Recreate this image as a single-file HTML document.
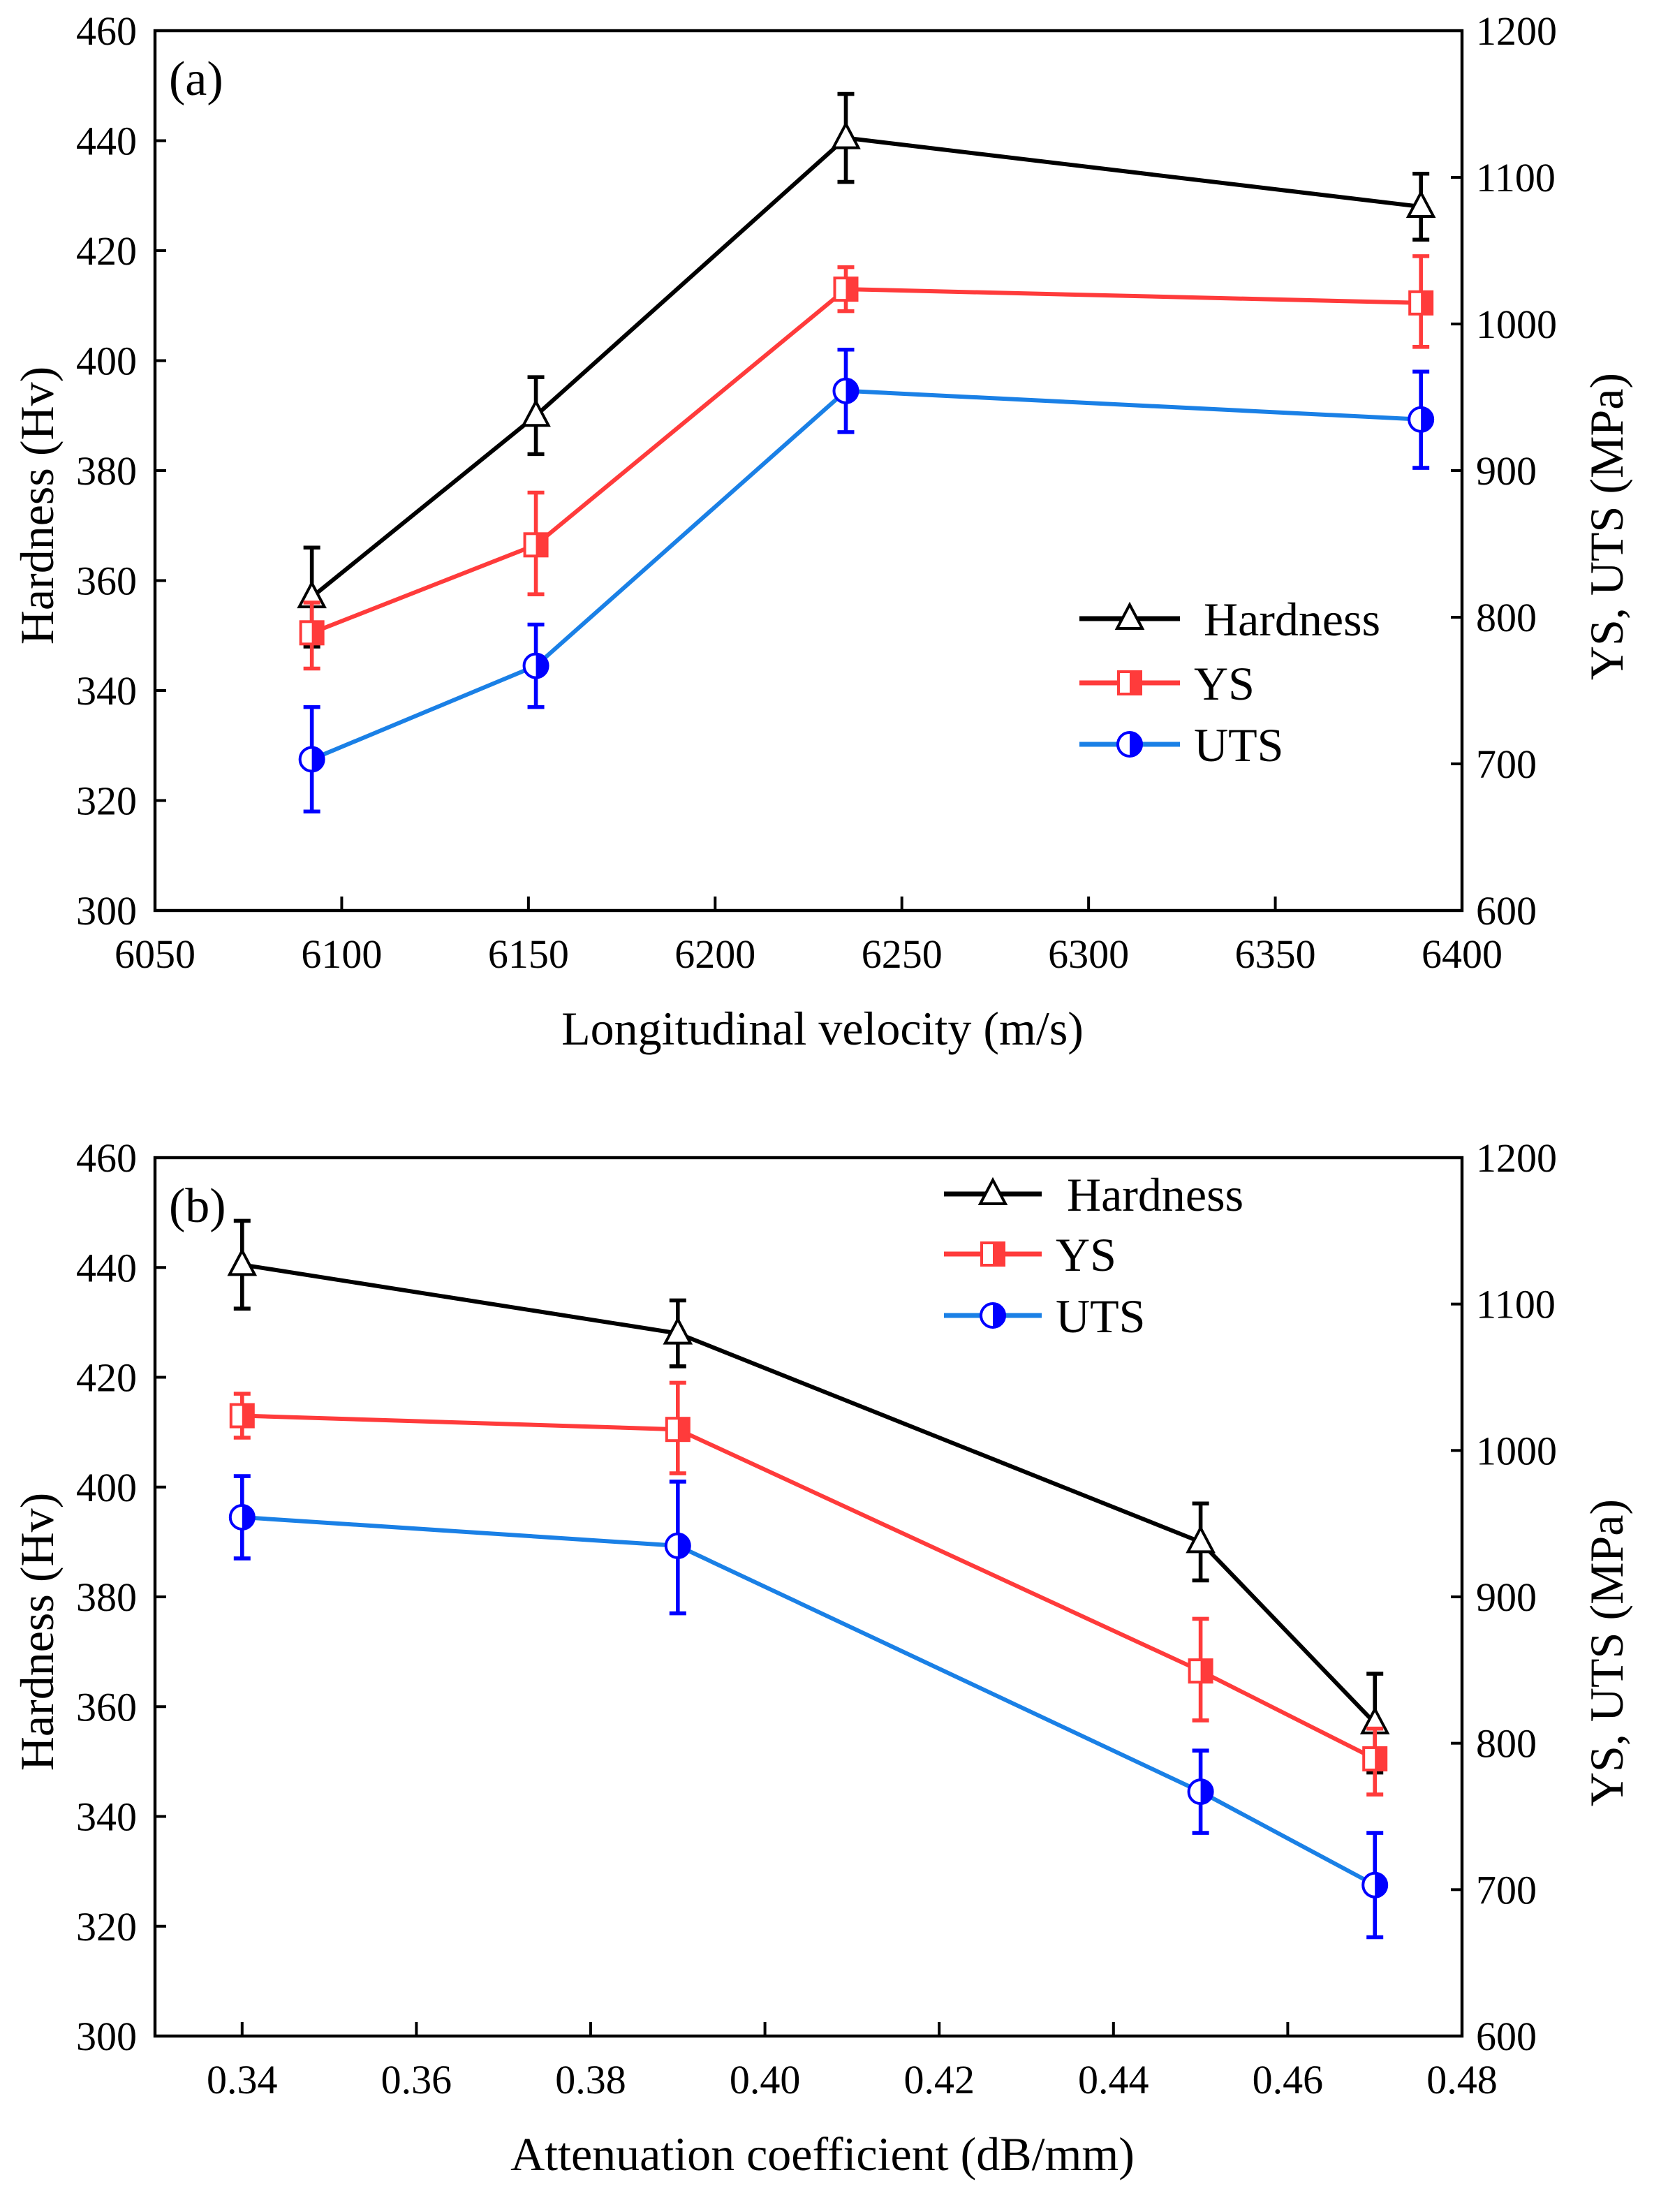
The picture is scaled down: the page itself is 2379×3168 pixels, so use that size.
<!DOCTYPE html>
<html><head><meta charset="utf-8"><style>
html,body{margin:0;padding:0;background:#fff;}
svg{display:block;}
</style></head><body>
<svg id="s" width="2379" height="3168" viewBox="0 0 1189.5 1584" xmlns="http://www.w3.org/2000/svg" font-family="Liberation Serif, serif"></svg>
<script>
const S=document.getElementById('s');let h='';
const L=111,R=1047;const F='font-family="Liberation Serif, serif"';
function panel(top,bot,xmin,xmax,xt,xfmt,pts,xlab,leg,tag){
  const X=v=>L+(v-xmin)/(xmax-xmin)*(R-L);
  const Y=v=>bot-(v-300)/160*(bot-top);
  h+=`<rect x="${L}" y="${top}" width="${R-L}" height="${bot-top}" fill="none" stroke="#000" stroke-width="2.2"/>`;
  for(let v=300;v<=460;v+=20){const y=Y(v);
    h+=`<line x1="${L}" y1="${y}" x2="${L+8}" y2="${y}" stroke="#000" stroke-width="2"/>`;
    h+=`<text ${F} x="98" y="${y+10}" font-size="29" text-anchor="end">${v}</text>`;}
  for(let m=600;m<=1200;m+=100){const y=Y(300+(m-600)/3.75);
    h+=`<line x1="${R-8}" y1="${y}" x2="${R}" y2="${y}" stroke="#000" stroke-width="2"/>`;
    h+=`<text ${F} x="1057" y="${y+10}" font-size="29">${m}</text>`;}
  xt.forEach(v=>{const x=X(v);
    h+=`<line x1="${x}" y1="${bot}" x2="${x}" y2="${bot-10}" stroke="#000" stroke-width="2"/>`;
    h+=`<text ${F} x="${x}" y="${bot+41}" font-size="29" text-anchor="middle">${xfmt(v)}</text>`;});
  h+=`<text ${F} x="${(L+R)/2+10}" y="${bot+96}" font-size="34" text-anchor="middle">${xlab}</text>`;
  h+=`<text ${F} transform="translate(38,${(top+bot)/2+25}) rotate(-90)" font-size="34" text-anchor="middle">Hardness (Hv)</text>`;
  h+=`<text ${F} transform="translate(1162,${(top+bot)/2+40}) rotate(-90)" font-size="34" text-anchor="middle">YS, UTS (MPa)</text>`;
  h+=`<text ${F} x="${L+10}" y="${top+46}" font-size="35">${tag}</text>`;
  const ser=[['h','#000','#000'],['y','#ff3b3b','#ff3b3b'],['u','#1a80e6','#0000ff']];
  ser.forEach(([k,c,ec],i)=>{
    const p=pts.map(d=>[X(d.x),Y(d[k][0]),Y(d[k][1]),Y(d[k][2])]);
    h+=`<polyline points="${p.map(q=>q[0]+','+q[1]).join(' ')}" fill="none" stroke="${c}" stroke-width="3"/>`;
    p.forEach(q=>{
      h+=`<line x1="${q[0]}" y1="${q[2]}" x2="${q[0]}" y2="${q[3]}" stroke="${ec}" stroke-width="2.8"/>`;
      h+=`<line x1="${q[0]-6}" y1="${q[2]}" x2="${q[0]+6}" y2="${q[2]}" stroke="${ec}" stroke-width="2.8"/>`;
      h+=`<line x1="${q[0]-6}" y1="${q[3]}" x2="${q[0]+6}" y2="${q[3]}" stroke="${ec}" stroke-width="2.8"/>`;
      h+=mk(i,q[0],q[1],c,ec);});
  });
  leg.forEach((l,i)=>{const [x1,x2,y,tx]=l;const c=ser[i][1];
    h+=`<line x1="${x1}" y1="${y}" x2="${x2}" y2="${y}" stroke="${c}" stroke-width="3.5"/>`;
    h+=mk(i,(x1+x2)/2,y,c,ser[i][2]);
    h+=`<text ${F} x="${tx}" y="${y+12}" font-size="34">${['Hardness','YS','UTS'][i]}</text>`;});
}
function mk(i,x,y,c,ec){
  if(i==0)return `<polygon points="${x},${y-10} ${x-9},${y+7} ${x+9},${y+7}" fill="#fff" stroke="#000" stroke-width="2"/>`;
  if(i==1)return `<rect x="${x-8}" y="${y-8}" width="16" height="16" fill="#fff" stroke="${c}" stroke-width="2"/><rect x="${x}" y="${y-8}" width="8" height="16" fill="${c}"/>`;
  return `<circle cx="${x}" cy="${y}" r="8.5" fill="#fff" stroke="${ec}" stroke-width="2"/><path d="M${x} ${y-8.5} A8.5 8.5 0 0 1 ${x} ${y+8.5}Z" fill="${ec}"/>`;
}
const A=[
 {x:6092,h:[357,348,366],y:[350.5,344,356],u:[327.5,318,337]},
 {x:6152,h:[390,383,397],y:[366.5,357.5,376],u:[344.5,337,352]},
 {x:6235,h:[440.5,432.5,448.5],y:[413,409,417],u:[394.5,387,402]},
 {x:6389,h:[428,422,434],y:[410.5,402.5,419],u:[389.3,380.5,398]}];
panel(22,652,6050,6400,[6050,6100,6150,6200,6250,6300,6350,6400],v=>v,A,'Longitudinal velocity (m/s)',
 [[773,845,443,862],[773,845,489,855],[773,845,533,855]],'(a)');
const B=[
 {x:0.34,h:A[2].h,y:A[2].y,u:A[2].u},
 {x:0.39,h:A[3].h,y:A[3].y,u:[389.3,377,401]},
 {x:0.45,h:A[1].h,y:A[1].y,u:A[1].u},
 {x:0.47,h:A[0].h,y:A[0].y,u:A[0].u}];
panel(829,1458,0.33,0.48,[0.34,0.36,0.38,0.40,0.42,0.44,0.46,0.48],v=>v.toFixed(2),B,'Attenuation coefficient (dB/mm)',
 [[676,746,855,764],[676,746,898,756],[676,746,942,756]],'(b)');
S.innerHTML=h;
</script>
</body></html>
